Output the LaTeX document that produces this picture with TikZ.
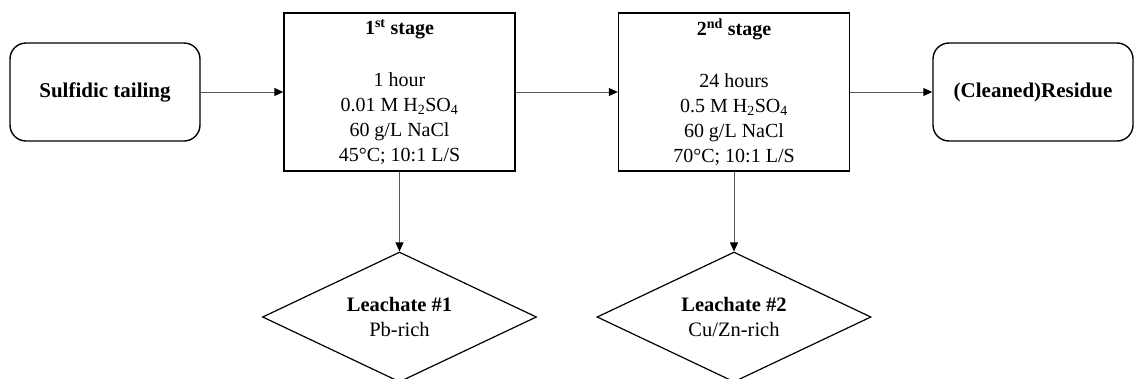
\documentclass[tikz,border=0pt]{standalone}
\usepackage{fontspec}
\setmainfont{Liberation Serif}
\usetikzlibrary{shapes.geometric,arrows.meta}
\begin{document}
\begin{tikzpicture}[x=1pt,y=-1pt,
  every node/.style={font=\fontsize{20}{25}\selectfont},
  endbox/.style={draw=black,line width=1.4pt,rounded corners=16pt,minimum width=190pt,minimum height=98pt,inner sep=0pt,font=\fontsize{21}{25}\selectfont\bfseries},
  stagebox/.style={draw=black,line width=1.4pt,minimum width=231pt,minimum height=158pt,inner sep=0pt,align=center},
  outbox/.style={draw=black,line width=1.2pt,diamond,aspect=2.1,minimum width=274pt,minimum height=130pt,inner sep=0pt,align=center,font=\fontsize{20.5}{25}\selectfont},
  flow/.style={draw=black!65,line width=1pt,-{Triangle[length=9pt,width=8pt,color=black]}}]
\useasboundingbox (0,0) rectangle (1134,378);
\node[endbox] (tail) at (105,92) {Sulfidic tailing};
\node[stagebox] (s1) at (399.5,92) {\textbf{1\textsuperscript{st} stage}\\[27pt]1 hour\\0.01 M H\textsubscript{2}SO\textsubscript{4}\\60 g/L NaCl\\45°C; 10:1 L/S};
\node[stagebox] (s2) at (734,92) {\textbf{2\textsuperscript{nd} stage}\\[27pt]24 hours\\0.5 M H\textsubscript{2}SO\textsubscript{4}\\60 g/L NaCl\\70°C; 10:1 L/S};
\node[endbox,minimum width=200pt] (res) at (1033,92) {(Cleaned)Residue};
\node[outbox] (l1) at (399.5,317) {\textbf{Leachate \#1}\\Pb-rich};
\node[outbox] (l2) at (734,317) {\textbf{Leachate \#2}\\Cu/Zn-rich};
\draw[flow] (tail) -- (s1);
\draw[flow] (s1) -- (s2);
\draw[flow] (s2) -- (res);
\draw[flow] (s1) -- (l1);
\draw[flow] (s2) -- (l2);
\end{tikzpicture}
\end{document}
